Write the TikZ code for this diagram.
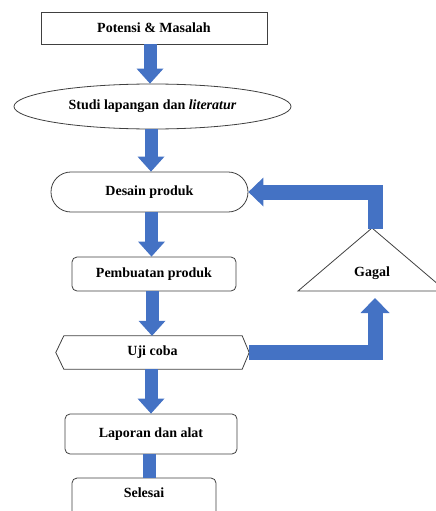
\documentclass[tikz,border=0pt]{standalone}
\usepackage{fontspec}
\setmainfont{Liberation Serif}
\usetikzlibrary{arrows.meta,shapes.geometric}
\definecolor{arrowblue}{HTML}{4472C4}
\definecolor{edgegray}{HTML}{404040}
\begin{document}
\begin{tikzpicture}[x=1pt,y=-1pt,
  every node/.style={font=\fontsize{14}{16}\selectfont\bfseries},
  boxbase/.style={draw=edgegray, line width=0.8pt, fill=white, inner sep=0pt},
  fat/.style={draw=arrowblue, line width=13pt, line join=miter,
    -{Triangle[width=27pt,length=15pt,line width=0pt]}},
  fatloop/.style={draw=arrowblue, line width=15pt, line join=miter,
    -{Triangle[width=29pt,length=15pt,line width=0pt]}},
  bar/.style={draw=arrowblue, line width=13pt}]
\useasboundingbox (0,0) rectangle (436,511);
\clip (0,0) rectangle (436,511);
% nodes
\node[boxbase, rectangle, minimum width=226pt, minimum height=32pt] (pot) at (154,28) {Potensi \& Masalah};
\node[boxbase, ellipse, minimum width=277pt, minimum height=45pt] (studi) at (152.5,106.5) {Studi lapangan dan \textit{literatur}\hspace{8pt}};
\node[boxbase, rectangle, rounded corners=19.9pt, minimum width=197pt, minimum height=40pt] (desain) at (149.5,192) {Desain produk};
\node[boxbase, rectangle, rounded corners=5pt, minimum width=164pt, minimum height=34pt] (pemb) at (154,274) {Pembuatan produk};
\node[inner sep=0pt, minimum width=193pt, minimum height=33pt] (uji) at (152.5,352.5) {Uji coba};
\node[boxbase, rectangle, rounded corners=5pt, minimum width=172pt, minimum height=40pt] (lap) at (151,434) {Laporan dan alat};
\node[boxbase, rectangle, rounded corners=5pt, minimum width=144pt, text height=15pt, text depth=30pt, inner ysep=4.5pt, anchor=base] (sel) at (144,497.5) {Selesai};
% Uji coba hexagon outline
\draw[draw=edgegray, line width=0.8pt] (uji.west) -- ([xshift=8pt]uji.north west) -- ([xshift=-7pt]uji.north east) -- (uji.east) -- ([xshift=-7pt]uji.south east) -- ([xshift=8pt]uji.south west) -- cycle;
% Gagal triangle
\coordinate (gtop) at (372,228);
\coordinate (gleft) at (298,291);
\coordinate (gright) at (446,291);
\draw[draw=edgegray, line width=0.8pt] (gleft) -- (gtop) -- (gright) -- cycle;
\node (gagal) at (372,273) {Gagal};
\coordinate (gin) at (375,298);
\coordinate (gout) at (375,229);
% column coordinates for vertical arrows
\coordinate (c1) at (150,0);
\coordinate (c2) at (151,0);
\coordinate (c3) at (151.5,0);
\coordinate (c4) at (152,0);
\coordinate (c5) at (151,0);
\coordinate (c6) at (149.5,0);
% arrows
\draw[fat] (pot.south -| c1) -- (studi.north -| c1);
\draw[fat] (studi.south -| c2) -- (desain.north -| c2);
\draw[fat] (desain.south -| c3) -- (pemb.north -| c3);
\draw[fat] (pemb.south -| c4) -- (uji.north -| c4);
\draw[fat] (uji.south -| c5) -- (lap.north -| c5);
\draw[bar] (lap.south -| c6) -- (sel.north -| c6);
\draw[fatloop] (uji.east) -| (gin);
\draw[fatloop] (gout) |- (desain.east);
\end{tikzpicture}
\end{document}
